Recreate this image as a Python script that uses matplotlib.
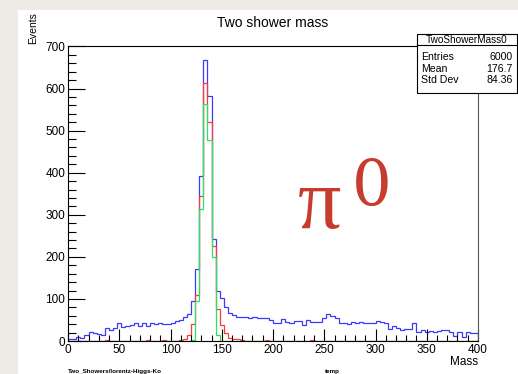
#!/usr/bin/env python3
import numpy as np
import matplotlib
matplotlib.use("Agg")
import matplotlib.pyplot as plt
from matplotlib.patches import Rectangle

# 100 bins of width 4 from 0 to 400
bin_edges = np.arange(0, 404, 4)

# all two-shower combinations (blue)
blue_counts = [
    5, 5, 10, 7, 14, 22, 20, 17, 14, 30,
    26, 32, 43, 33, 36, 38, 43, 36, 42, 36,
    43, 40, 43, 40, 40, 42, 48, 50, 58, 64,
    95, 172, 391, 667, 581, 242, 119, 101, 81, 66,
    62, 58, 56, 56, 54, 58, 54, 54, 54, 51,
    43, 43, 52, 46, 42, 48, 48, 38, 51, 44,
    46, 46, 55, 63, 60, 54, 43, 43, 40, 44,
    42, 44, 42, 42, 43, 48, 44, 42, 28, 36,
    32, 25, 28, 28, 43, 22, 26, 21, 24, 22,
    23, 26, 26, 22, 13, 22, 10, 22, 18, 20,
]

# red selection
red_counts = [0] * 100
red_points = {
    9: 2, 19: 2, 22: 1, 23: 2, 27: 2, 28: 4, 29: 14, 30: 40, 31: 109,
    32: 345, 33: 614, 34: 520, 35: 225, 36: 75, 37: 38, 38: 19, 39: 7,
    40: 4, 41: 4, 42: 2, 43: 1, 48: 2, 59: 3,
}
for i, v in red_points.items():
    red_counts[i] = v

# green selection
green_counts = [0] * 100
green_points = {30: 2, 31: 95, 32: 313, 33: 564, 34: 477, 35: 200, 36: 15}
for i, v in green_points.items():
    green_counts[i] = v

stats_title = "TwoShowerMass0"
stats_names = ["Entries", "Mean", "Std Dev"]
stats_values = ["6000", "176.7", "84.36"]

W, H = 518, 374


def fx(px):
    return px / W


def fy(py):
    return (H - py) / H


def main():
    plt.rcParams["font.family"] = ["Liberation Sans", "DejaVu Sans"]
    fig = plt.figure(figsize=(W / 100, H / 100), dpi=100)
    fig.patch.set_facecolor("#eeeae6")
    # white page on the slide background
    fig.patches.append(Rectangle((fx(18), 0), fx(500), (H - 10) / H, transform=fig.transFigure,
                                 facecolor="white", edgecolor="none", zorder=-10))

    ax = fig.add_axes([fx(68), fy(341), fx(410), (341 - 46) / H])
    ax.stairs(blue_counts, bin_edges, color="#3a3aff", linewidth=0.9)
    ax.stairs(red_counts, bin_edges, color="#ff3838", linewidth=0.9)
    ax.stairs(green_counts, bin_edges, color="#2ee060", linewidth=0.9)

    ax.set_xlim(0, 400)
    ax.set_ylim(0, 701)
    ax.set_xticks(np.arange(0, 401, 50))
    ax.set_xticks(np.arange(0, 401, 10), minor=True)
    ax.set_yticks(np.arange(0, 701, 100))
    ax.set_yticks(np.arange(0, 701, 20), minor=True)
    ax.tick_params(which="both", direction="in", top=False, right=False, labelsize=8.5, pad=2)
    ax.tick_params(axis="x", which="major", length=9, width=0.8)
    ax.tick_params(axis="x", which="minor", length=4.5, width=0.8)
    ax.tick_params(axis="y", which="major", length=12, width=0.8)
    ax.tick_params(axis="y", which="minor", length=6, width=0.8)
    for s in ax.spines.values():
        s.set_linewidth(0.8)
    ax.spines["right"].set_color("#555555")

    fig.text(fx(273), fy(27), "Two shower mass", ha="center", va="baseline", fontsize=10)
    fig.text(fx(33), fy(12), "Events", rotation=90, ha="center", va="top", fontsize=7.5)
    fig.text(fx(478), fy(362), "Mass", ha="right", va="center", fontsize=8.5)

    # stats box
    fig.patches.append(Rectangle((fx(417), fy(93)), fx(100), (93 - 34) / H, transform=fig.transFigure,
                                 facecolor="white", edgecolor="black", linewidth=0.8, zorder=5))
    fig.lines.append(plt.Line2D([fx(417), fx(517)], [fy(45)] * 2, transform=fig.transFigure,
                                color="black", linewidth=0.8, zorder=6))
    fig.text(fx(467), fy(43), stats_title, ha="center", va="baseline", fontsize=7.2, zorder=7)
    for i, (n, v) in enumerate(zip(stats_names, stats_values)):
        y = fy(57.5 + i * 11.3)
        fig.text(fx(421), y, n, ha="left", va="center", fontsize=7.6, zorder=7)
        fig.text(fx(513), y, v, ha="right", va="center", fontsize=7.6, zorder=7)

    # pi0 label
    fig.text(fx(298), fy(228), "\u03c0", ha="left", va="baseline", fontsize=62,
             color="#c63d2f", family=["Liberation Serif", "DejaVu Serif"])
    fig.text(fx(352), fy(206), "0", ha="left", va="baseline", fontsize=45,
             color="#c63d2f", family=["DejaVu Serif", "Liberation Serif"])

    # footer at the page edge
    fig.text(fx(68), fy(373.5), "Two_Showers/lorentz-Higgs-Ko", ha="left", va="bottom", fontsize=4.5, weight="bold")
    fig.text(fx(325), fy(373.5), "temp", ha="left", va="bottom", fontsize=4.5, weight="bold")

    fig.savefig("out.png", dpi=100, facecolor=fig.get_facecolor())
    plt.close(fig)


if __name__ == "__main__":
    main()
